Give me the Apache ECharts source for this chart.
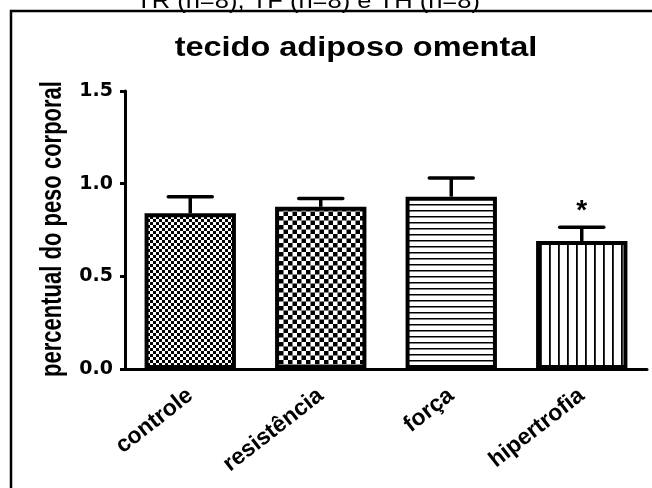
<!DOCTYPE html>
<html>
<head>
<meta charset="utf-8">
<script src="https://cdn.jsdelivr.net/npm/echarts@6/dist/echarts.min.js"></script>
<style>
  html, body { margin: 0; padding: 0; background: #fff; }
  #main { width: 652px; height: 488px; }
</style>
</head>
<body>
<div id="main"></div>
<script>
// data
var categories = ["controle", "resistência", "força", "hipertrofia"];
var means = [0.84, 0.875, 0.93, 0.69];
var errors = [0.09, 0.045, 0.10, 0.075];
var sigMarks = ["", "", "", "*"];
var yTicks = [0, 0.5, 1.0, 1.5];

var titleText = "tecido adiposo omental";
var topText = "TR (n=8), TF (n=8) e TH (n=8)";
var yName = "percentual do peso corporal";

function makePattern(w, h, draw) {
  var c = document.createElement("canvas");
  c.width = w;
  c.height = h;
  var g = c.getContext("2d");
  g.fillStyle = "#fff";
  g.fillRect(0, 0, w, h);
  g.fillStyle = "#000";
  draw(g);
  return { image: c, repeat: "repeat" };
}

var patterns = [
  // fine checkerboard
  makePattern(6, 6, function (g) {
    g.fillRect(0, 0, 3, 3);
    g.fillRect(3, 3, 3, 3);
  }),
  // coarse checkerboard
  makePattern(9, 9, function (g) {
    g.fillRect(0, 0, 4.5, 4.5);
    g.fillRect(4.5, 4.5, 4.5, 4.5);
  }),
  // horizontal lines
  makePattern(4, 6, function (g) {
    g.fillRect(0, 0, 4, 1.5);
  }),
  // vertical lines
  makePattern(9, 4, function (g) {
    g.fillRect(0, 0, 1.8, 4);
  }),
];

var barData = means.map(function (v, i) {
  return { value: v, itemStyle: { color: patterns[i] } };
});
var errData = means.map(function (v, i) {
  return [i, v, errors[i]];
});

var myChart = echarts.init(document.getElementById("main"));

var option = {
  animation: false,
  backgroundColor: "#fff",
  grid: {
    left: 125,
    right: 5,
    top: 91,
    bottom: 119,
  },
  graphic: [
    {
      type: "text",
      x: 308,
      y: 2,
      scaleX: 1.16,
      style: {
        text: topText,
        font: "22px 'Liberation Sans'",
        fill: "#000",
        textAlign: "center",
        textVerticalAlign: "middle",
      },
    },
    {
      type: "text",
      x: 356,
      y: 48,
      scaleX: 1.16,
      style: {
        text: titleText,
        font: "bold 28px 'Liberation Sans'",
        fill: "#000",
        textAlign: "center",
        textVerticalAlign: "middle",
      },
    },
    {
      // y axis title, drawn by hand so it can be widened like the source
      type: "text",
      x: 53,
      y: 229,
      rotation: Math.PI / 2,
      scaleY: 1.35,
      style: {
        text: yName,
        font: "bold 22px 'Liberation Sans'",
        fill: "#000",
        textAlign: "center",
        textVerticalAlign: "middle",
      },
    },
    {
      type: "polyline",
      shape: { points: [[11, 500], [11, 11], [660, 11]] },
      style: { stroke: "#000", lineWidth: 2.5, fill: null },
    },
  ],
  xAxis: {
    type: "category",
    data: categories,
    axisLine: { lineStyle: { color: "#000", width: 3 } },
    axisTick: {
      alignWithLabel: true,
      length: 5,
      lineStyle: { color: "#000", width: 3 },
    },
    axisLabel: {
      rotate: 38,
      margin: 24,
      color: "#000",
      fontFamily: "Liberation Sans",
      fontWeight: "bold",
      fontSize: 23,
    },
  },
  yAxis: {
    type: "value",
    min: yTicks[0],
    max: yTicks[yTicks.length - 1],
    interval: 0.5,
    splitLine: { show: false },
    axisLine: { show: true, lineStyle: { color: "#000", width: 3 } },
    axisTick: { show: true, length: 5, lineStyle: { color: "#000", width: 3 } },
    axisLabel: {
      margin: 12,
      color: "#000",
      fontFamily: "DejaVu Sans",
      fontWeight: "bold",
      fontSize: 19,
      formatter: function (v) {
        return v.toFixed(1);
      },
    },
  },
  series: [
    {
      name: "media",
      type: "bar",
      barWidth: "70%",
      data: barData,
      itemStyle: {
        borderColor: "#000",
        borderWidth: 4,
      },
    },
    {
      name: "erro",
      type: "custom",
      z: 1,
      data: errData,
      renderItem: function (params, api) {
        var base = api.coord([api.value(0), api.value(1)]);
        var top = api.coord([api.value(0), api.value(1) + api.value(2)]);
        var children = [
          {
            type: "line",
            shape: { x1: base[0], y1: base[1], x2: top[0], y2: top[1] },
            style: { stroke: "#000", lineWidth: 3.5 },
          },
          {
            type: "line",
            shape: { x1: top[0] - 22, y1: top[1], x2: top[0] + 22, y2: top[1] },
            style: { stroke: "#000", lineWidth: 3.5, lineCap: "round" },
          },
        ];
        var mark = sigMarks[params.dataIndex];
        if (mark) {
          children.push({
            type: "text",
            x: top[0],
            y: top[1] - 16,
            style: {
              text: mark,
              font: "bold 28px 'Liberation Sans'",
              fill: "#000",
              textAlign: "center",
              textVerticalAlign: "middle",
            },
          });
        }
        return { type: "group", children: children };
      },
    },
  ],
};

option && myChart.setOption(option);
</script>
</body>
</html>
